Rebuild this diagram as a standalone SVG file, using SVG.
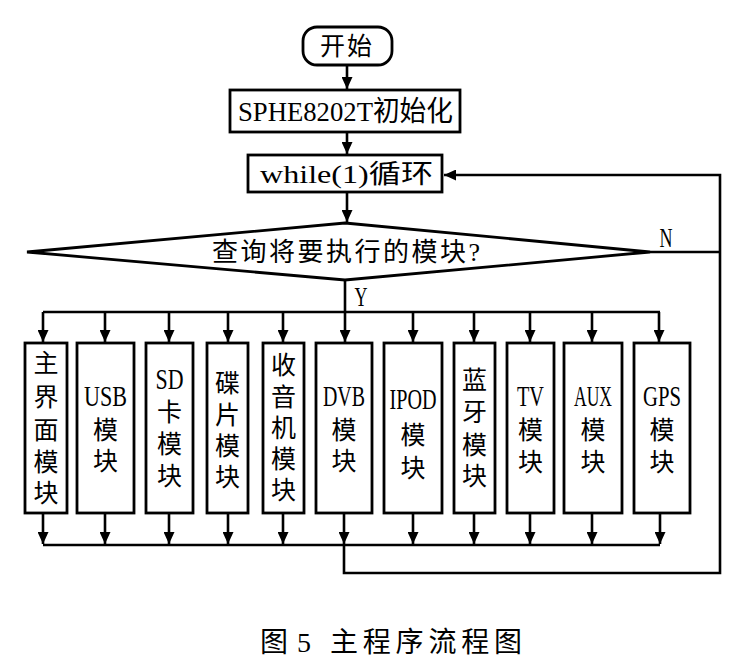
<svg xmlns="http://www.w3.org/2000/svg" width="740" height="659" viewBox="0 0 740 659">
<style>
.bx{fill:#fff;stroke:#000;stroke-width:2.8}
.ln{fill:none;stroke:#000;stroke-width:2.6}
.t{font-family:"Liberation Serif","Noto Sans CJK SC",serif;fill:#000;text-anchor:middle;dominant-baseline:central}
.c{font-size:25px}
.l{font-size:30px}
</style>
<defs>
<marker id="ah" viewBox="0 0 12 11" markerWidth="12" markerHeight="11" refX="12" refY="5.5" orient="auto" markerUnits="userSpaceOnUse">
<path d="M0,0 L12,5.5 L0,11 z" fill="#000"/>
</marker>
</defs>
<rect width="740" height="659" fill="#fff"/>
<g id="connectors">
<line class="ln" x1="347" y1="65" x2="347" y2="89" marker-end="url(#ah)"/>
<line class="ln" x1="347" y1="132" x2="347" y2="154" marker-end="url(#ah)"/>
<line class="ln" x1="347" y1="192" x2="347" y2="222" marker-end="url(#ah)"/>
<line class="ln" x1="345" y1="280" x2="345" y2="312"/>
<line class="ln" x1="43" y1="312" x2="660" y2="312"/>
<line class="ln" x1="43" y1="312" x2="43" y2="342" marker-end="url(#ah)"/>
<line class="ln" x1="105" y1="312" x2="105" y2="342" marker-end="url(#ah)"/>
<line class="ln" x1="169" y1="312" x2="169" y2="342" marker-end="url(#ah)"/>
<line class="ln" x1="228" y1="312" x2="228" y2="342" marker-end="url(#ah)"/>
<line class="ln" x1="283" y1="312" x2="283" y2="342" marker-end="url(#ah)"/>
<line class="ln" x1="345" y1="312" x2="345" y2="342" marker-end="url(#ah)"/>
<line class="ln" x1="413" y1="312" x2="413" y2="342" marker-end="url(#ah)"/>
<line class="ln" x1="474" y1="312" x2="474" y2="342" marker-end="url(#ah)"/>
<line class="ln" x1="530" y1="312" x2="530" y2="342" marker-end="url(#ah)"/>
<line class="ln" x1="592" y1="312" x2="592" y2="342" marker-end="url(#ah)"/>
<line class="ln" x1="659" y1="312" x2="659" y2="342" marker-end="url(#ah)"/>
<line class="ln" x1="43" y1="513" x2="43" y2="544" marker-end="url(#ah)"/>
<line class="ln" x1="105" y1="513" x2="105" y2="544" marker-end="url(#ah)"/>
<line class="ln" x1="169" y1="513" x2="169" y2="544" marker-end="url(#ah)"/>
<line class="ln" x1="228" y1="513" x2="228" y2="544" marker-end="url(#ah)"/>
<line class="ln" x1="283" y1="513" x2="283" y2="544" marker-end="url(#ah)"/>
<line class="ln" x1="344" y1="513" x2="344" y2="544" marker-end="url(#ah)"/>
<line class="ln" x1="413" y1="513" x2="413" y2="544" marker-end="url(#ah)"/>
<line class="ln" x1="474" y1="513" x2="474" y2="544" marker-end="url(#ah)"/>
<line class="ln" x1="530" y1="513" x2="530" y2="544" marker-end="url(#ah)"/>
<line class="ln" x1="592" y1="513" x2="592" y2="544" marker-end="url(#ah)"/>
<line class="ln" x1="660" y1="513" x2="660" y2="544" marker-end="url(#ah)"/>
<line class="ln" x1="43" y1="545" x2="660" y2="545"/>
<polyline class="ln" points="344,545 344,573 720,573 720,175 444,175" marker-end="url(#ah)"/>
<line class="ln" x1="650" y1="252" x2="720" y2="252"/>
<text class="t" x="361" y="296" font-size="28" textLength="13" lengthAdjust="spacingAndGlyphs">Y</text>
<text class="t" x="666" y="237" font-size="28" textLength="13" lengthAdjust="spacingAndGlyphs">N</text>
</g>
<g id="start">
<rect class="bx" x="303" y="27" width="89" height="38" rx="14"/>
<text class="t" x="347" y="46" font-size="25" letter-spacing="2">开始</text>
</g>
<g id="init">
<rect class="bx" x="230" y="90" width="230" height="42"/>
<text class="t" x="345.5" y="111" font-size="28" textLength="215" lengthAdjust="spacingAndGlyphs">SPHE8202T初始化</text>
</g>
<g id="loop">
<rect class="bx" x="248" y="155" width="194" height="37"/>
<text class="t" x="346.5" y="174" font-size="26" textLength="173" lengthAdjust="spacingAndGlyphs">while(1)循环</text>
</g>
<g id="decision">
<polygon class="bx" points="345,223 650,252 345,280 27,252"/>
<text class="t" x="346" y="252" font-size="26" textLength="268" lengthAdjust="spacing">查询将要执行的模块?</text>
</g>
<g id="m1">
<rect class="bx" x="25" y="343" width="42" height="170"/>
<text class="t c" x="46" y="363">主</text>
<text class="t c" x="46" y="397">界</text>
<text class="t c" x="46" y="430">面</text>
<text class="t c" x="46" y="462">模</text>
<text class="t c" x="46" y="493">块</text>
</g>
<g id="m2">
<rect class="bx" x="77" y="343" width="57" height="170"/>
<text class="t l" x="105.5" y="395" textLength="43" lengthAdjust="spacingAndGlyphs">USB</text>
<text class="t c" x="105.5" y="430">模</text>
<text class="t c" x="105.5" y="461">块</text>
</g>
<g id="m3">
<rect class="bx" x="146" y="343" width="47" height="170"/>
<text class="t l" x="169.5" y="378" textLength="28" lengthAdjust="spacingAndGlyphs">SD</text>
<text class="t c" x="169.5" y="412">卡</text>
<text class="t c" x="169.5" y="444">模</text>
<text class="t c" x="169.5" y="476">块</text>
</g>
<g id="m4">
<rect class="bx" x="207" y="343" width="41" height="170"/>
<text class="t c" x="227.5" y="383">碟</text>
<text class="t c" x="227.5" y="415">片</text>
<text class="t c" x="227.5" y="446">模</text>
<text class="t c" x="227.5" y="477">块</text>
</g>
<g id="m5">
<rect class="bx" x="263" y="343" width="41" height="170"/>
<text class="t c" x="283.5" y="365">收</text>
<text class="t c" x="283.5" y="397">音</text>
<text class="t c" x="283.5" y="428">机</text>
<text class="t c" x="283.5" y="459">模</text>
<text class="t c" x="283.5" y="490">块</text>
</g>
<g id="m6">
<rect class="bx" x="316" y="343" width="56" height="170"/>
<text class="t l" x="344" y="395" textLength="42" lengthAdjust="spacingAndGlyphs">DVB</text>
<text class="t c" x="344" y="430">模</text>
<text class="t c" x="344" y="461">块</text>
</g>
<g id="m7">
<rect class="bx" x="384" y="343" width="58" height="170"/>
<text class="t l" x="413" y="398" textLength="47" lengthAdjust="spacingAndGlyphs">IPOD</text>
<text class="t c" x="413" y="435">模</text>
<text class="t c" x="413" y="468">块</text>
</g>
<g id="m8">
<rect class="bx" x="454" y="343" width="41" height="170"/>
<text class="t c" x="474.5" y="380">蓝</text>
<text class="t c" x="474.5" y="412">牙</text>
<text class="t c" x="474.5" y="445">模</text>
<text class="t c" x="474.5" y="476">块</text>
</g>
<g id="m9">
<rect class="bx" x="507" y="343" width="47" height="170"/>
<text class="t l" x="530.5" y="395" textLength="27" lengthAdjust="spacingAndGlyphs">TV</text>
<text class="t c" x="530.5" y="430">模</text>
<text class="t c" x="530.5" y="462">块</text>
</g>
<g id="m10">
<rect class="bx" x="564" y="343" width="58" height="170"/>
<text class="t l" x="593" y="395" textLength="38" lengthAdjust="spacingAndGlyphs">AUX</text>
<text class="t c" x="593" y="430">模</text>
<text class="t c" x="593" y="462">块</text>
</g>
<g id="m11">
<rect class="bx" x="634" y="343" width="56" height="170"/>
<text class="t l" x="662" y="395" textLength="38" lengthAdjust="spacingAndGlyphs">GPS</text>
<text class="t c" x="662" y="430">模</text>
<text class="t c" x="662" y="462">块</text>
</g>
<g id="caption">
<text class="t" x="274" y="642" font-size="28">图</text>
<text class="t" x="304" y="642" font-size="28">5</text>
<text class="t" x="426" y="642" font-size="28" textLength="192" lengthAdjust="spacing">主程序流程图</text>
</g>
</svg>
